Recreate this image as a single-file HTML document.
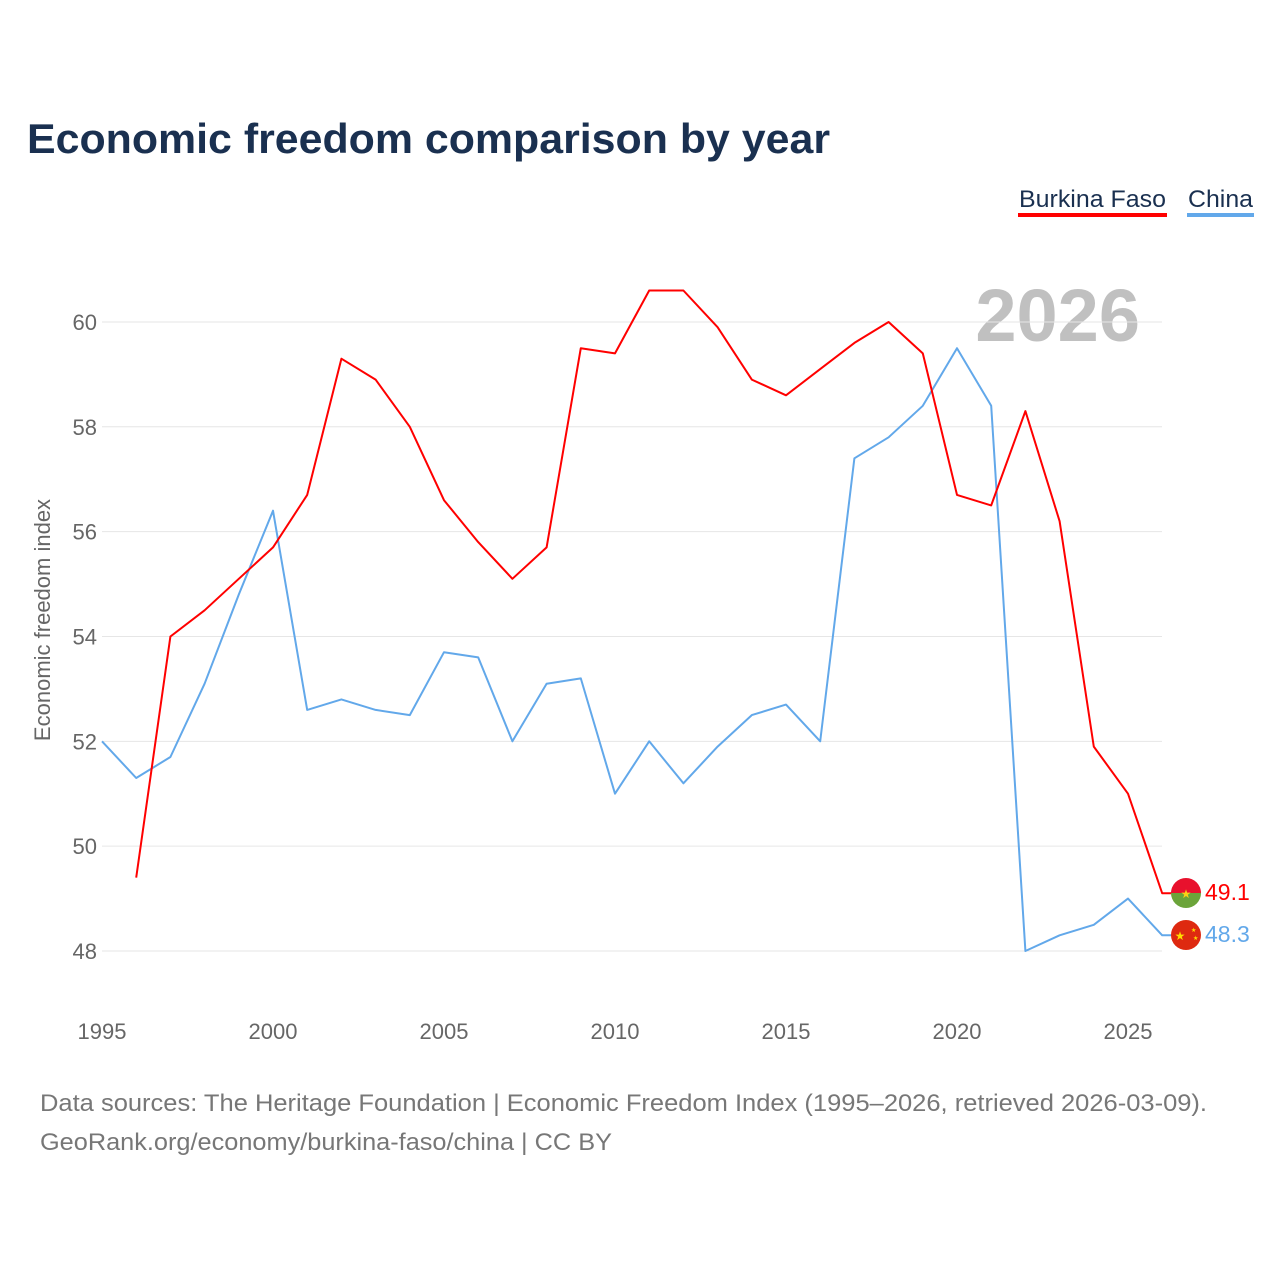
<!DOCTYPE html>
<html><head><meta charset="utf-8"><style>
body{margin:0;background:#fff;font-family:"Liberation Sans",sans-serif}
</style></head><body>
<svg width="1280" height="1280" xmlns="http://www.w3.org/2000/svg" font-family="Liberation Sans, sans-serif">
<text x="27" y="153" font-size="42" font-weight="bold" fill="#1a3050" textLength="803" lengthAdjust="spacingAndGlyphs">Economic freedom comparison by year</text>
<g>
<text x="1019" y="207" font-size="24" fill="#1a3050" textLength="147" lengthAdjust="spacingAndGlyphs">Burkina Faso</text>
<rect x="1018" y="213" width="149" height="4" fill="#ff0000"/>
<text x="1188" y="207" font-size="24" fill="#1a3050" textLength="65" lengthAdjust="spacingAndGlyphs">China</text>
<rect x="1187" y="213" width="67" height="4" fill="#62a8ea"/>
</g>
<text x="1140" y="341" text-anchor="end" font-size="74" font-weight="bold" fill="#c0c0c0">2026</text>
<g id="grid"></g><g id="yt"></g><g id="xt"></g>
<text transform="translate(50,620) rotate(-90)" text-anchor="middle" font-size="22" fill="#666">Economic freedom index</text>
<g id="lines"></g>
<g>
<g><clipPath id="c1"><circle cx="1186" cy="893" r="15"/></clipPath><g clip-path="url(#c1)"><rect x="1171" y="878" width="30" height="15" fill="#e8112d"/><rect x="1171" y="893" width="30" height="15" fill="#6ba43a"/></g><text x="1186" y="898" text-anchor="middle" font-size="12" fill="#fcd116">★</text></g>
<g><circle cx="1186" cy="935" r="15" fill="#de2910"/><text x="1180" y="940" text-anchor="middle" font-size="12" fill="#ffde00">★</text><text x="1191" y="932" font-size="6" fill="#ffde00">★</text><text x="1193" y="940" font-size="6" fill="#ffde00">★</text></g>
<text x="1205" y="900" font-size="23" fill="#ff0000">49.1</text>
<text x="1205" y="942" font-size="23" fill="#62a8ea">48.3</text>
</g>
<text x="40" y="1111" font-size="24" fill="#777" textLength="1167" lengthAdjust="spacingAndGlyphs">Data sources: The Heritage Foundation | Economic Freedom Index (1995–2026, retrieved 2026-03-09).</text>
<text x="40" y="1150" font-size="24" fill="#777" textLength="572" lengthAdjust="spacingAndGlyphs">GeoRank.org/economy/burkina-faso/china | CC BY</text>
</svg>
<script>
const years=[1995,1996,1997,1998,1999,2000,2001,2002,2003,2004,2005,2006,2007,2008,2009,2010,2011,2012,2013,2014,2015,2016,2017,2018,2019,2020,2021,2022,2023,2024,2025,2026];
const burkina=[null,49.4,54.0,54.5,55.1,55.7,56.7,59.3,58.9,58.0,56.6,55.8,55.1,55.7,59.5,59.4,60.6,60.6,59.9,58.9,58.6,59.1,59.6,60.0,59.4,56.7,56.5,58.3,56.2,51.9,51.0,49.1];
const china=[52.0,51.3,51.7,53.1,54.8,56.4,52.6,52.8,52.6,52.5,53.7,53.6,52.0,53.1,53.2,51.0,52.0,51.2,51.9,52.5,52.7,52.0,57.4,57.8,58.4,59.5,58.4,48.0,48.3,48.5,49.0,48.3];
const yTicks=[48,50,52,54,56,58,60];
const xTicks=[1995,2000,2005,2010,2015,2020,2025];
const NS="http://www.w3.org/2000/svg";
const X=y=>102+(y-1995)*34.2;
const Y=v=>951-(v-48)*52.42;
function mk(t,a,p){const e=document.createElementNS(NS,t);for(const k in a)e.setAttribute(k,a[k]);p.appendChild(e);return e;}
const grid=document.getElementById('grid'),yt=document.getElementById('yt'),xt=document.getElementById('xt'),lines=document.getElementById('lines');
yTicks.forEach(v=>{
const l=mk('line',{x1:102,x2:1162,y1:Y(v),y2:Y(v),stroke:'#e6e6e6','stroke-width':1},grid);


const t=mk('text',{x:97,y:Y(v)+8,'text-anchor':'end','font-size':22,fill:'#666'},yt);t.textContent=v;


});
xTicks.forEach(v=>{
const t=mk('text',{x:X(v),y:1039,'text-anchor':'middle','font-size':22,fill:'#666'},xt);t.textContent=v;


});
function series(vals,color,name){
const pts=[];vals.forEach((v,i)=>{if(v!=null)pts.push(X(years[i]).toFixed(1)+','+Y(v).toFixed(1));});
const last=vals[vals.length-1];
pts.push('1172,'+Y(last).toFixed(1));
const p=mk('polyline',{points:pts.join(' '),fill:'none',stroke:color,'stroke-width':2,'stroke-linejoin':'round'},lines);


}
series(china,'#62a8ea','china-line');
series(burkina,'#ff0000','burkina-faso-line');
</script>
</body></html>
